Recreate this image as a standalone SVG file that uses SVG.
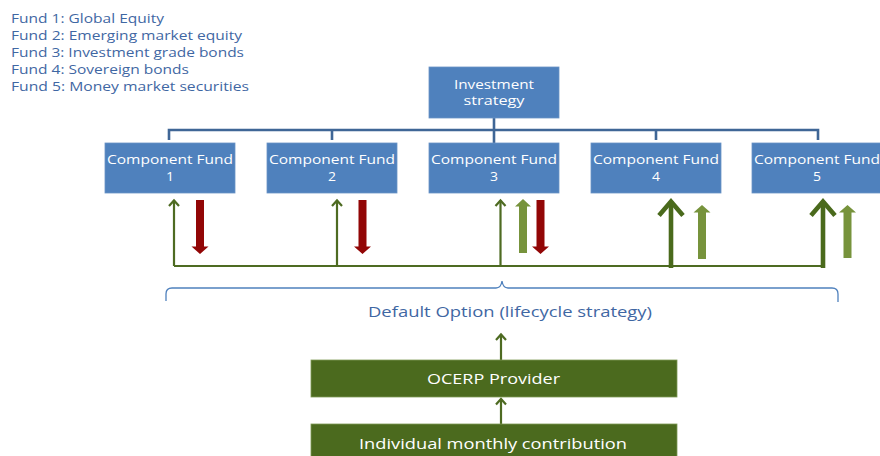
<svg xmlns="http://www.w3.org/2000/svg" width="880" height="456" viewBox="0 0 880 456">
<style>
text{font-family:"Open Sans","Liberation Sans",sans-serif;}
.leg{font-size:12.3px;fill:#3F67A3;}
.bt{font-size:12px;fill:#FFFFFF;text-anchor:middle;}
.gt{font-size:14.5px;fill:#FFFFFF;text-anchor:middle;}
.box{fill:#4F81BD;stroke:#6A93C6;stroke-width:0.8;}
.gbox{fill:#4B6A1E;stroke:#7E9A55;stroke-width:0.8;}
.tree{stroke:#3F6696;stroke-width:2.6;fill:none;}
.thin{stroke:#4E6B22;stroke-width:2.2;fill:none;marker-end:url(#chev);}
.thick{stroke:#4A6A1C;stroke-width:4.6;fill:none;marker-end:url(#chevBig);}
.red{fill:#920606;}
.lg{fill:#77933C;}
</style>
<defs>
<marker id="chev" markerUnits="userSpaceOnUse" markerWidth="20" markerHeight="20" refX="0" refY="0" orient="auto" overflow="visible">
<path d="M-5.5,-5 L0,0 L-5.5,5" fill="none" stroke="#4E6B22" stroke-width="2.2"/>
</marker>
<marker id="chevBig" markerUnits="userSpaceOnUse" markerWidth="40" markerHeight="40" refX="0" refY="0" orient="auto" overflow="visible">
<path d="M-14,-12 L0,0 L-14,12" fill="none" stroke="#4A6A1C" stroke-width="4.6"/>
</marker>
</defs>
<rect width="880" height="456" fill="#FFFFFF"/>

<g id="legend">
<text class="leg" x="11" y="22.5" textLength="153" lengthAdjust="spacingAndGlyphs">Fund 1: Global Equity</text>
<text class="leg" x="11" y="39.5" textLength="231" lengthAdjust="spacingAndGlyphs">Fund 2: Emerging market equity</text>
<text class="leg" x="11" y="56.5" textLength="233" lengthAdjust="spacingAndGlyphs">Fund 3: Investment grade bonds</text>
<text class="leg" x="11" y="73.5" textLength="178" lengthAdjust="spacingAndGlyphs">Fund 4: Sovereign bonds</text>
<text class="leg" x="11" y="90.5" textLength="238" lengthAdjust="spacingAndGlyphs">Fund 5: Money market securities</text>
</g>

<g id="connectors">
<path class="tree" d="M494,118 V143 M169,140 V130 H818 V140 M332,130 V140 M656,130 V140"/>
<path d="M174,266 H823" stroke="#4E6B22" stroke-width="2.2" fill="none"/>
<path class="thin" d="M174,266 V200.5"/>
<path class="thin" d="M337,266 V200.5"/>
<path class="thin" d="M500.5,266 V200.5"/>
<path class="thick" d="M671,268 V201.5"/>
<path class="thick" d="M823,268 V201.5"/>
<polygon class="red" points="196,200 204,200 204,246.5 208.5,246.5 200,254 191.5,246.5 196,246.5"/>
<polygon class="red" points="358.5,200 366.5,200 366.5,246.5 371,246.5 362.5,254 354,246.5 358.5,246.5"/>
<polygon class="red" points="536.5,200 544.5,200 544.5,246.5 549,246.5 540.5,254 532,246.5 536.5,246.5"/>
<polygon class="lg" points="523,199 531,206.5 527,206.5 527,253 519,253 519,206.5 515,206.5"/>
<polygon class="lg" points="702,205 710.5,212.5 706,212.5 706,259 698,259 698,212.5 693.5,212.5"/>
<polygon class="lg" points="847.5,205 856,212.5 851.5,212.5 851.5,258 843.5,258 843.5,212.5 839,212.5"/>
<path d="M166,301 V294 Q166,288 172,288 H496 Q501,288 502,281 Q503,288 508,288 H832 Q838,288 838,294 V302" fill="none" stroke="#4F81BD" stroke-width="1.3"/>
<path class="thin" d="M501,360 V334.5"/>
<path class="thin" d="M501,424 V399"/>
</g>

<g id="investment-strategy">
<rect class="box" x="429" y="67" width="130" height="51"/>
<text class="bt" x="494" y="88.5" font-size="12.5" textLength="80" lengthAdjust="spacingAndGlyphs">Investment</text>
<text class="bt" x="494" y="104.5" font-size="12.5" textLength="61" lengthAdjust="spacingAndGlyphs">strategy</text>
</g>

<g id="fund1">
<rect class="box" x="105" y="143" width="130" height="50"/>
<text class="bt" x="170" y="164.3" textLength="126" lengthAdjust="spacingAndGlyphs">Component Fund</text>
<text class="bt" x="170" y="180.6" textLength="8" lengthAdjust="spacingAndGlyphs">1</text>
</g>
<g id="fund2">
<rect class="box" x="267" y="143" width="130" height="50"/>
<text class="bt" x="332" y="164.3" textLength="126" lengthAdjust="spacingAndGlyphs">Component Fund</text>
<text class="bt" x="332" y="180.6" textLength="8" lengthAdjust="spacingAndGlyphs">2</text>
</g>
<g id="fund3">
<rect class="box" x="429" y="143" width="130" height="50"/>
<text class="bt" x="494" y="164.3" textLength="126" lengthAdjust="spacingAndGlyphs">Component Fund</text>
<text class="bt" x="494" y="180.6" textLength="8" lengthAdjust="spacingAndGlyphs">3</text>
</g>
<g id="fund4">
<rect class="box" x="591" y="143" width="130" height="50"/>
<text class="bt" x="656" y="164.3" textLength="126" lengthAdjust="spacingAndGlyphs">Component Fund</text>
<text class="bt" x="656" y="180.6" textLength="8" lengthAdjust="spacingAndGlyphs">4</text>
</g>
<g id="fund5">
<rect class="box" x="752" y="143" width="130" height="50"/>
<text class="bt" x="817" y="164.3" textLength="126" lengthAdjust="spacingAndGlyphs">Component Fund</text>
<text class="bt" x="817" y="180.6" textLength="8" lengthAdjust="spacingAndGlyphs">5</text>
</g>

<g id="default-option">
<text x="510" y="317" font-size="14.5" fill="#3F67A3" text-anchor="middle" textLength="284" lengthAdjust="spacingAndGlyphs">Default Option (lifecycle strategy)</text>
</g>

<g id="ocerp-provider">
<rect class="gbox" x="311" y="360" width="366" height="37"/>
<text class="gt" x="493.5" y="383.5" textLength="133" lengthAdjust="spacingAndGlyphs">OCERP Provider</text>
</g>

<g id="individual-contribution">
<rect class="gbox" x="311" y="424" width="366" height="40"/>
<text class="gt" x="493" y="448.5" textLength="268" lengthAdjust="spacingAndGlyphs">Individual monthly contribution</text>
</g>
</svg>
